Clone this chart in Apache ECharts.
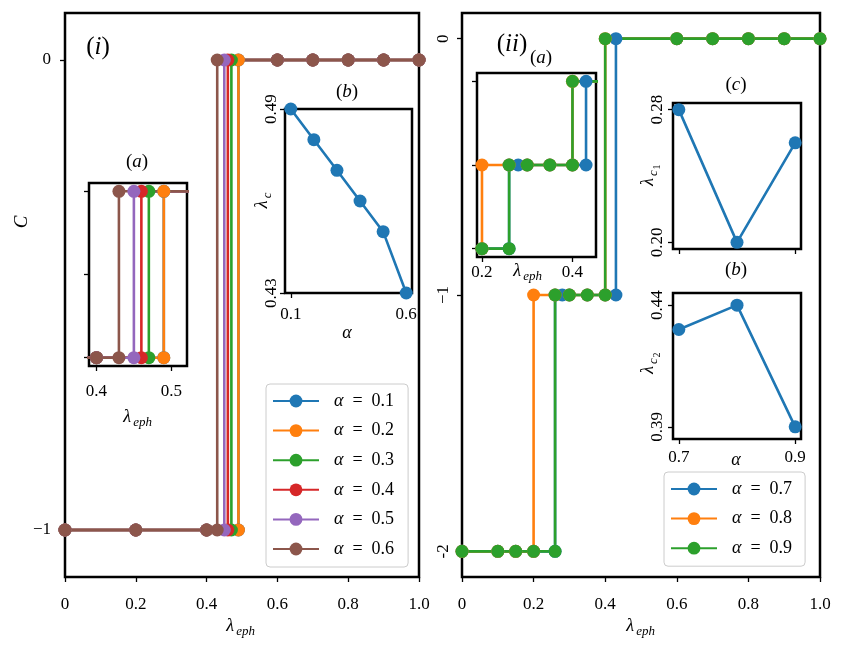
<!DOCTYPE html>
<html>
<head>
<meta charset="utf-8">
<script src="https://cdn.jsdelivr.net/npm/echarts@6/dist/echarts.min.js"></script>
<style>html,body{margin:0;padding:0;background:#fff}#c{width:848px;height:647px}</style>
</head>
<body>
<div id="c"></div>
<script>
// ---------------- data ----------------
const COLORS = ['#1f77b4', '#ff7f0e', '#2ca02c', '#d62728', '#9467bd', '#8c564b'];

// panel (i)
const alphas_i = [0.1, 0.2, 0.3, 0.4, 0.5, 0.6];
const lowX_i = [0, 0.2, 0.4];                 // points on C = -1 before the jump
const jumpX_i = [0.49, 0.49, 0.47, 0.46, 0.45, 0.43]; // jump position of each curve
const highX_i = [0.6, 0.7, 0.8, 0.9, 1.0];    // points on C = 0 after the jump
const lamC_i = [0.49, 0.48, 0.47, 0.46, 0.45, 0.43]; // inset (b)

// panel (ii)
const alphas_ii = [0.7, 0.8, 0.9];
const a07_m2 = [0, 0.1, 0.15, 0.2, 0.26];
const a07_m1 = [0.26, 0.28, 0.3, 0.35, 0.4, 0.43];
const a07_0 = [0.43, 0.6, 0.7, 0.8, 0.9, 1.0];
const a08_m2 = [0, 0.1, 0.15, 0.2];
const a08_m1 = [0.2, 0.26, 0.3, 0.35, 0.4];
const a08_0 = [0.4, 0.6, 0.7, 0.8, 0.9, 1.0];
const a09_m2 = [0, 0.1, 0.15, 0.2, 0.26];
const a09_m1 = [0.26, 0.3, 0.35, 0.4];
const a09_0 = [0.4, 0.6, 0.7, 0.8, 0.9, 1.0];
const lamC1_ii = [0.28, 0.20, 0.26]; // inset (c)
const lamC2_ii = [0.43, 0.44, 0.39]; // inset (b)

// tick values
const xTicksMain = [0, 0.2, 0.4, 0.6, 0.8, 1.0];
const yTicks_i = [-1, 0];
const yTicks_ii = [-2, -1, 0];
const yTickText_ii = {'-2': '-2', '-1': '\u22121', '0': '0'};

// ---------------- helpers ----------------
const FONT = 'Liberation Serif';
function steps(levels) {
  const out = [];
  levels.forEach(([xs, y]) => xs.forEach(x => out.push([x, y])));
  return out;
}
const seriesI = alphas_i.map((a, k) => steps([[lowX_i.concat([jumpX_i[k]]), -1], [[jumpX_i[k]].concat(highX_i), 0]]));
const seriesII = [
  steps([[a07_m2, -2], [a07_m1, -1], [a07_0, 0]]),
  steps([[a08_m2, -2], [a08_m1, -1], [a08_0, 0]]),
  steps([[a09_m2, -2], [a09_m1, -1], [a09_0, 0]])
];

function ax(gi, min, max, ticks, opts) {
  opts = opts || {};
  return {
    type: 'value', gridIndex: gi, min: min, max: max, name: '',
    axisLine: {show: false, onZero: false}, splitLine: {show: false},
    axisTick: {show: true, length: 5, inside: false, customValues: ticks, lineStyle: {color: '#000', width: 1.3}},
    axisLabel: {
      show: !!opts.labels, customValues: ticks, color: '#000', fontFamily: FONT,
      fontSize: opts.fontSize || 17, margin: opts.margin || 8, rotate: opts.rotate || 0,
      formatter: opts.fmt || (v => String(v))
    }
  };
}
function line(name, data, color, xi, size) {
  return {
    type: 'line', name: name, data: data, xAxisIndex: xi, yAxisIndex: xi,
    symbol: 'circle', symbolSize: size || 13, showAllSymbol: true, clip: true,
    lineStyle: {color: color, width: 2.6}, itemStyle: {color: color},
    emphasis: {disabled: true}, animation: false
  };
}
function T(x, y, text, o) {
  o = o || {};
  return {type: 'text', x: x, y: y, rotation: o.rot || 0, z: 100, style: {
    text: text, fill: o.color || '#000', fontFamily: FONT, fontSize: o.size || 18,
    fontStyle: o.italic ? 'italic' : 'normal', textAlign: o.align || 'center', textVerticalAlign: 'middle', rich: o.rich
  }};
}
// math label with subscript; centered at (x,y); rot in radians
function sub(x, y, base, s, o) {
  o = o || {};
  const bs = o.size || 18, ss = Math.round(bs * 0.7);
  const bw = bs * 0.55, sw = s.length * ss * 0.5 + (o.sub2 ? ss * 0.4 : 0);
  const x0 = -(bw + sw) / 2;
  const ch = [
    {type: 'text', x: x0, y: 0, style: {text: base, fill: '#000', fontFamily: FONT, fontSize: bs, fontStyle: 'italic', textAlign: 'left', textVerticalAlign: 'middle'}},
    {type: 'text', x: x0 + bw, y: bs * 0.3, style: {text: s, fill: '#000', fontFamily: FONT, fontSize: ss, fontStyle: 'italic', textAlign: 'left', textVerticalAlign: 'middle'}}
  ];
  if (o.sub2) ch.push({type: 'text', x: x0 + bw + s.length * ss * 0.5, y: bs * 0.3 + ss * 0.3, style: {text: o.sub2, fill: '#000', fontFamily: FONT, fontSize: Math.round(ss * 0.75), textAlign: 'left', textVerticalAlign: 'middle'}});
  return {type: 'group', x: x, y: y, rotation: o.rot || 0, z: 100, children: ch};
}
const par = {n: {fontFamily: FONT, fontSize: 19}, i: {fontFamily: FONT, fontSize: 19, fontStyle: 'italic'}};
const parBig = {n: {fontFamily: FONT, fontSize: 25, color: '#bf00bf'}, i: {fontFamily: FONT, fontSize: 25, fontStyle: 'italic', color: '#bf00bf'}};
const R90 = Math.PI / 2;

const gridStyle = {show: true, borderColor: '#000', borderWidth: 2.5, backgroundColor: '#fff'};
const grids = [
  Object.assign({left: 65, top: 13, width: 354, height: 564}, gridStyle),
  Object.assign({left: 89, top: 183, width: 98, height: 183}, gridStyle),
  Object.assign({left: 285, top: 109, width: 127, height: 184}, gridStyle),
  Object.assign({left: 462, top: 13, width: 358, height: 564}, gridStyle),
  Object.assign({left: 477, top: 73, width: 119, height: 184}, gridStyle),
  Object.assign({left: 673, top: 103, width: 128, height: 146}, gridStyle),
  Object.assign({left: 673, top: 293, width: 128, height: 146}, gridStyle)
];
const fmtMain = v => (v === 0 ? '0' : v.toFixed(1));
const xAxes = [
  ax(0, 0, 1, xTicksMain, {labels: true, fmt: fmtMain, margin: 19}),
  ax(1, 0.39, 0.521, [0.4, 0.5], {labels: true, fmt: v => v.toFixed(1), margin: 17}),
  ax(2, 0.075, 0.625, [0.1, 0.6], {labels: true, fmt: v => v.toFixed(1), margin: 13}),
  ax(3, 0, 1, xTicksMain, {labels: true, fmt: fmtMain, margin: 19}),
  ax(4, 0.189, 0.452, [0.2, 0.4], {labels: true, fmt: v => v.toFixed(1), margin: 7}),
  ax(5, 0.69, 0.91, [0.7, 0.9], {labels: false}),
  ax(6, 0.69, 0.91, [0.7, 0.9], {labels: true, fmt: v => v.toFixed(1), margin: 10})
];
const yAxes = [
  ax(0, -1.1, 0.1, yTicks_i, {labels: true, fmt: v => (v === 0 ? '0' : '\u22121'), margin: 14}),
  ax(1, -1.05, 0.05, [-1, -0.5, 0], {labels: false}),
  ax(2, 0.43, 0.49, [0.43, 0.49], {labels: true, fmt: v => v.toFixed(2), rotate: 90, margin: 5}),
  ax(3, -2.1, 0.1, yTicks_ii, {labels: true, fmt: v => yTickText_ii[String(v)], rotate: 90, margin: 10}),
  ax(4, -2.1, 0.1, yTicks_ii, {labels: false}),
  ax(5, 0.196, 0.284, [0.20, 0.28], {labels: true, fmt: v => v.toFixed(2), rotate: 90, margin: 7}),
  ax(6, 0.385, 0.445, [0.39, 0.44], {labels: true, fmt: v => v.toFixed(2), rotate: 90, margin: 7})
];

const series = [];
const namesI = alphas_i.map(a => '\u03b1 = ' + a.toFixed(1));
const namesII = alphas_ii.map(a => '\u03b1 = ' + a.toFixed(1));
seriesI.forEach((d, k) => series.push(line(namesI[k], d, COLORS[k], 0)));
seriesI.forEach((d, k) => series.push(line('inset a ' + k, d, COLORS[k], 1)));
series.push(line('inset b', alphas_i.map((a, k) => [a, lamC_i[k]]), COLORS[0], 2));
seriesII.forEach((d, k) => series.push(line(namesII[k], d, COLORS[k], 3)));
seriesII.forEach((d, k) => series.push(line('inset a2 ' + k, d, COLORS[k], 4)));
series.push(line('inset c2', alphas_ii.map((a, k) => [a, lamC1_ii[k]]), COLORS[0], 5));
series.push(line('inset b2', alphas_ii.map((a, k) => [a, lamC2_ii[k]]), COLORS[0], 6));

const legendBase = {
  orient: 'vertical', itemWidth: 46, itemHeight: 16, itemGap: 11.6,
  borderColor: '#cccccc', borderWidth: 1, borderRadius: 4, backgroundColor: 'rgba(255,255,255,0.8)',
  selectedMode: false,
  textStyle: {fontFamily: FONT, fontSize: 18, color: '#000', lineHeight: 16, padding: [0, 0, 0, 10],
    rich: {a: {fontFamily: FONT, fontSize: 18, lineHeight: 16, fontStyle: 'italic'}, t: {fontFamily: FONT, fontSize: 18, lineHeight: 16}}},
  formatter: n => '{a|\u03b1}{t|\u2002=\u2002' + n.split('= ')[1] + '}'
};
const legends = [
  Object.assign({}, legendBase, {data: namesI, left: 266, top: 384, padding: [8, 14, 9, 6]}),
  Object.assign({}, legendBase, {data: namesII, left: 664, top: 472, padding: [8, 13, 9, 6]})
];

const graphics = [
  T(98, 47, '{n|(}{i|i}{n|)}', {rich: parBig}),
  T(512, 44, '{n|(}{i|ii}{n|)}', {rich: parBig}),
  T(137, 162, '{n|(}{i|a}{n|)}', {rich: par}),
  T(347, 92, '{n|(}{i|b}{n|)}', {rich: par}),
  T(541, 58, '{n|(}{i|a}{n|)}', {rich: par}),
  T(736, 85, '{n|(}{i|c}{n|)}', {rich: par}),
  T(736, 270, '{n|(}{i|b}{n|)}', {rich: par}),
  T(22, 222, 'C', {italic: true, rot: R90, size: 19}),
  sub(241, 626, '\u03bb', 'eph'),
  sub(641, 626, '\u03bb', 'eph'),
  sub(138, 417, '\u03bb', 'eph'),
  sub(528, 271, '\u03bb', 'eph'),
  T(347, 333, '\u03b1', {italic: true}),
  T(736, 460, '\u03b1', {italic: true}),
  sub(262, 200, '\u03bb', 'c', {rot: R90}),
  sub(648, 175, '\u03bb', 'c', {rot: R90, sub2: '1'}),
  sub(648, 363, '\u03bb', 'c', {rot: R90, sub2: '2'})
];

const chart = echarts.init(document.getElementById('c'), null, {renderer: 'canvas'});
chart.setOption({
  animation: false,
  backgroundColor: '#fff',
  grid: grids, xAxis: xAxes, yAxis: yAxes,
  legend: legends,
  series: series,
  graphic: graphics
});
</script>
</body>
</html>
